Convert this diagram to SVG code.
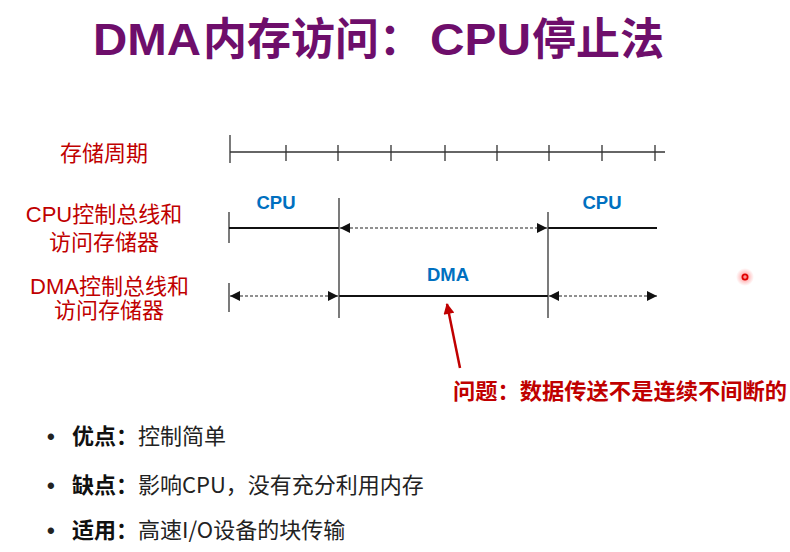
<svg xmlns="http://www.w3.org/2000/svg" width="790" height="552" viewBox="0 0 790 552">
<style>
.title{font-family:"Liberation Sans","Noto Sans CJK SC",sans-serif;font-weight:bold;font-size:44px;fill:#6E0E6B}
.titlecjk{font-family:"Noto Sans CJK SC",sans-serif;font-weight:bold;font-size:44px;fill:#6E0E6B}
.lbl{font-family:"Liberation Sans","Noto Sans CJK SC",sans-serif;font-size:22px;fill:#C00000;text-anchor:middle}
.blue{font-family:"Liberation Sans",Arial,sans-serif;font-weight:bold;font-size:18.5px;fill:#0070C0;text-anchor:middle}
.prob{font-family:"Noto Sans CJK SC",sans-serif;font-weight:bold;font-size:22px;fill:#C00000}
.bul{font-family:"Noto Sans CJK SC",sans-serif;font-size:22px;fill:#222}
.dot{font-family:"Liberation Sans",sans-serif;font-size:22px;font-weight:bold;fill:#222}
.bulb{font-weight:bold;fill:#111}
.tl{stroke:#333;stroke-width:1.3;fill:none}
.solid{stroke:#111;stroke-width:2;fill:none}
.dash{stroke:#222;stroke-width:1.2;stroke-dasharray:3 2;fill:none}
.vert{stroke:#333;stroke-width:1.3;fill:none}
</style>
<defs>
<marker id="ah" viewBox="0 0 10 10" refX="10" refY="5" markerWidth="11" markerHeight="10" markerUnits="userSpaceOnUse" orient="auto-start-reverse">
<path d="M0,0 L10,5 L0,10 z" fill="#111"/>
</marker>
<marker id="rah" viewBox="0 0 10 10" refX="9" refY="5" markerWidth="12" markerHeight="11" markerUnits="userSpaceOnUse" orient="auto">
<path d="M0,0 L10,5 L0,10 z" fill="#C00000"/>
</marker>
<radialGradient id="glow">
<stop offset="0" stop-color="#ff2020" stop-opacity="0.55"/>
<stop offset="1" stop-color="#ff4040" stop-opacity="0"/>
</radialGradient>
</defs>
<rect width="790" height="552" fill="#fff"/>

<g id="title">
<text class="title" x="93" y="55" textLength="108" lengthAdjust="spacingAndGlyphs">DMA</text>
<text class="titlecjk" x="203" y="55">内存访问：</text>
<text class="title" x="430" y="55" textLength="101" lengthAdjust="spacingAndGlyphs">CPU</text>
<text class="titlecjk" x="532" y="55">停止法</text>
</g>

<g id="label-cycle"><text class="lbl" x="104" y="161">存储周期</text></g>
<g id="label-cpu"><text class="lbl"><tspan x="104" y="222">CPU控制总线和</tspan><tspan x="104" y="250">访问存储器</tspan></text></g>
<g id="label-dma"><text class="lbl"><tspan x="109.5" y="294">DMA控制总线和</tspan><tspan x="109" y="318">访问存储器</tspan></text></g>

<g id="timeline">
<line class="tl" x1="230" y1="152" x2="665" y2="152"/>
<line class="tl" x1="230" y1="135" x2="230" y2="163"/>
<path class="tl" d="M286,145V161M338,145V161M391,145V161M445,145V161M497,145V161M549,145V161M602,145V161M655,145V161"/>
</g>

<g id="cpu-row">
<line class="vert" x1="229" y1="212" x2="229" y2="243"/>
<line class="solid" x1="229" y1="228" x2="339" y2="228"/>
<line class="solid" x1="548" y1="228" x2="657" y2="228"/>
<text class="blue" x="276" y="209">CPU</text>
<text class="blue" x="602" y="209">CPU</text>
</g>

<g id="dma-row">
<line class="vert" x1="229" y1="283" x2="229" y2="312"/>
<line class="solid" x1="339" y1="296" x2="548" y2="296"/>
<text class="blue" x="448" y="281">DMA</text>
</g>

<g id="dividers">
<line class="vert" x1="339" y1="198" x2="339" y2="318"/>
<line class="vert" x1="548" y1="212" x2="548" y2="318"/>
</g>

<g id="connectors">
<line class="dash" x1="340" y1="228" x2="547" y2="228" marker-start="url(#ah)" marker-end="url(#ah)"/>
<line class="dash" x1="230" y1="296" x2="338" y2="296" marker-start="url(#ah)" marker-end="url(#ah)"/>
<line class="dash" x1="549" y1="296" x2="657" y2="296" marker-start="url(#ah)" marker-end="url(#ah)"/>
<line x1="460" y1="368" x2="447" y2="304" stroke="#C00000" stroke-width="2.5" marker-end="url(#rah)"/>
</g>

<g id="problem"><text class="prob" x="453" y="399" textLength="334" lengthAdjust="spacingAndGlyphs">问题：数据传送不是连续不间断的</text></g>

<g id="pointer">
<circle cx="745" cy="277" r="9" fill="url(#glow)"/>
<circle cx="745" cy="277" r="2.6" fill="none" stroke="#E00000" stroke-width="1.8"/>
</g>

<g id="bullets">
<text class="dot" x="47" y="444">•</text>
<text class="bul" x="72" y="444"><tspan class="bulb">优点：</tspan>控制简单</text>
<text class="dot" x="47" y="493">•</text>
<text class="bul" x="72" y="493"><tspan class="bulb">缺点：</tspan>影响CPU，没有充分利用内存</text>
<text class="dot" x="47" y="538">•</text>
<text class="bul" x="72" y="538"><tspan class="bulb">适用：</tspan>高速I/O设备的块传输</text>
</g>
</svg>
